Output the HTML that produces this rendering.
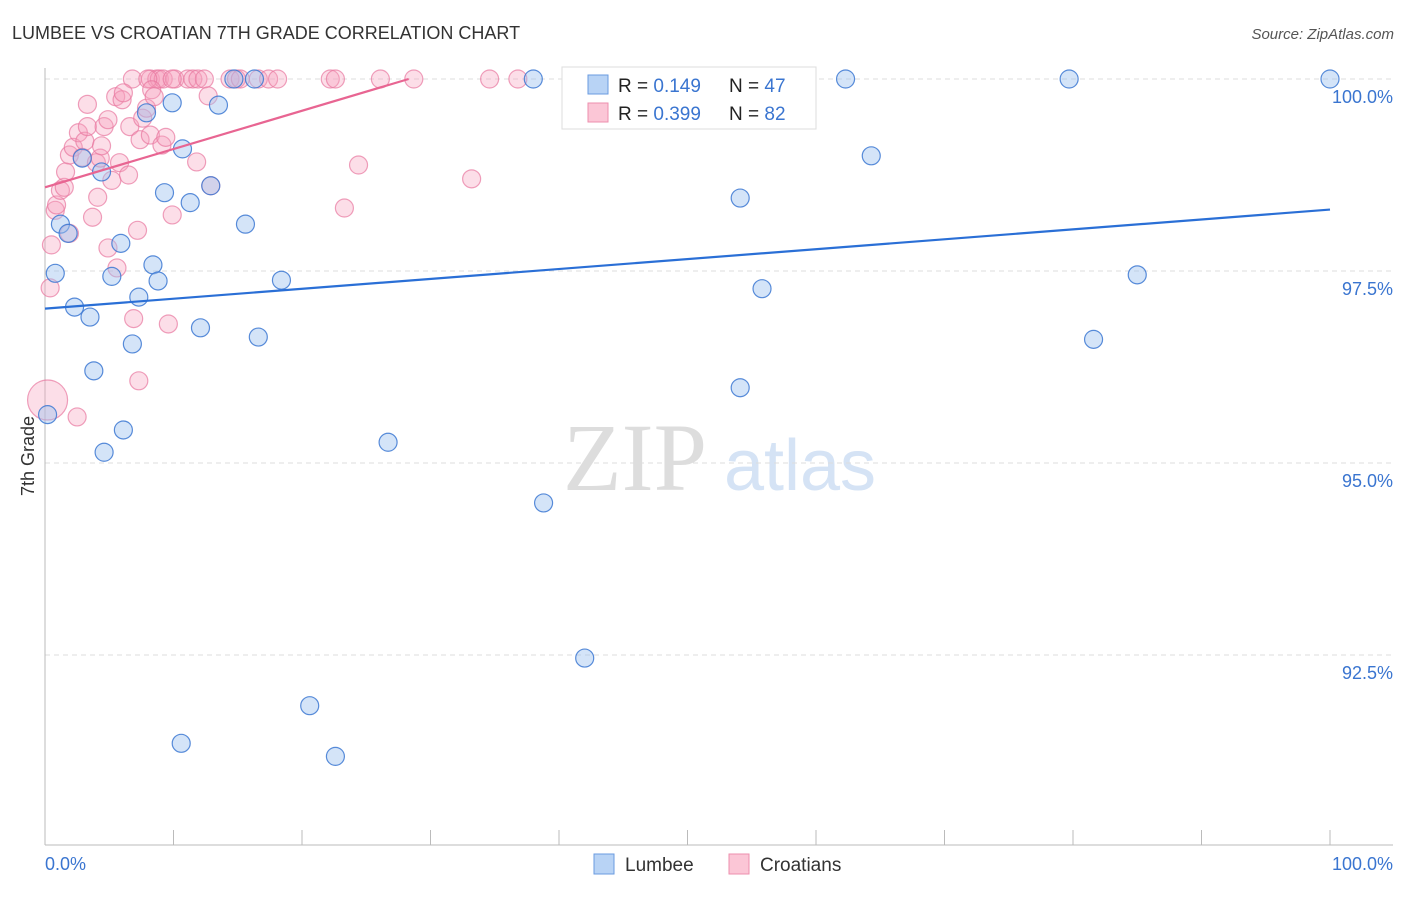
<!DOCTYPE html>
<html><head><meta charset="utf-8"><style>
body{margin:0;background:#fff;font-family:"Liberation Sans",sans-serif}
svg text{font-family:"Liberation Sans",sans-serif}
</style></head><body>
<svg id="c" width="1406" height="892">
<text x="12" y="39" font-size="18" fill="#333">LUMBEE VS CROATIAN 7TH GRADE CORRELATION CHART</text>
<text x="1394" y="39" font-size="15" fill="#555" font-style="italic" text-anchor="end">Source: ZipAtlas.com</text>
<text x="635" y="490" font-size="96" fill="#ddd" text-anchor="middle" font-family="Liberation Serif" style="font-family:'Liberation Serif',serif">ZIP</text>
<text x="800" y="490" font-size="72" fill="#d5e3f5" text-anchor="middle">atlas</text>
<text x="34" y="456" font-size="18" fill="#333" text-anchor="middle" transform="rotate(-90 34 456)">7th Grade</text>
<g id="grid"></g><g id="pts"></g><g id="lines"></g>
<g>
<rect x="562" y="67" width="254" height="62" fill="#fff" stroke="#ddd"/>
<rect x="588" y="75" width="20" height="19" fill="#b8d3f5" stroke="#6a9be0"/>
<rect x="588" y="103" width="20" height="19" fill="#fbc6d6" stroke="#ee8fae"/>
<text x="618" y="92" font-size="19" fill="#222">R = <tspan fill="#3a75d0">0.149</tspan>   </text>
<text x="729" y="92" font-size="19" fill="#222">N = <tspan fill="#3a75d0">47</tspan></text>
<text x="618" y="120" font-size="19" fill="#222">R = <tspan fill="#3a75d0">0.399</tspan></text>
<text x="729" y="120" font-size="19" fill="#222">N = <tspan fill="#3a75d0">82</tspan></text>
</g>
<g>
<rect x="594" y="854" width="20" height="20" fill="#b8d3f5" stroke="#6a9be0"/>
<text x="625" y="871" font-size="19" fill="#333">Lumbee</text>
<rect x="729" y="854" width="20" height="20" fill="#fbc6d6" stroke="#ee8fae"/>
<text x="760" y="871" font-size="19" fill="#333">Croatians</text>
</g>
</svg>
<script>
const yTicks=[100,97.5,95,92.5];
const yTickLabels=["100.0%","97.5%","95.0%","92.5%"];
const xTickLabels=["0.0%","100.0%"];
const blueX=[0.2,0.8,1.2,1.8,2.3,2.9,3.5,3.8,4.4,4.6,5.2,5.9,6.1,6.8,7.3,7.9,8.4,8.8,9.3,9.9,10.7,10.6,11.3,12.1,12.9,13.5,14.7,15.6,16.3,16.6,18.4,20.6,22.6,26.7,38.0,38.8,42.0,54.1,54.1,55.8,62.3,64.3,79.7,81.6,85.0,100,48.4];
const blueY=[95.63,97.47,98.11,97.99,97.03,98.97,96.90,96.20,98.79,95.14,97.43,97.86,95.43,96.55,97.16,99.56,97.58,97.37,98.52,99.69,99.09,91.35,98.39,96.76,98.61,99.66,100,98.11,100,96.64,97.38,91.84,91.18,95.27,100,94.48,92.46,98.45,95.98,97.27,100,99.0,100,96.61,97.45,100,100];
const pinkX=[6.8,8.2,8.7,8.9,9.2,10.1,11.1,11.5,11.9,12.4,14.4,14.9,15.2,16.6,17.4,18.1,22.2,22.6,26.1,28.7,34.6,36.8,8.0,9.9,0.2,0.4,0.5,0.8,0.9,1.2,1.5,1.6,1.9,1.9,2.2,2.5,2.6,2.9,3.1,3.3,3.3,3.7,4.0,4.1,4.3,4.4,4.6,4.9,4.9,5.2,5.5,5.6,5.8,6.0,6.1,6.5,6.6,6.9,7.2,7.3,7.4,7.6,7.9,8.2,8.3,8.5,9.1,9.4,9.6,9.9,11.8,12.7,12.9,23.3,24.4,33.2];
const pinkY=[100,100,100,100,100,100,100,100,100,100,100,100,100,100,100,100,100,100,100,100,100,100,100,100,95.82,97.28,97.84,98.29,98.36,98.55,98.59,98.79,99.01,97.99,99.11,95.60,99.30,98.98,99.19,99.38,99.67,98.20,98.91,98.46,98.97,99.13,99.38,97.80,99.47,98.68,99.77,97.54,98.91,99.73,99.82,98.75,99.38,96.88,98.03,96.07,99.21,99.49,99.62,99.27,99.86,99.77,99.14,99.24,96.81,98.23,98.92,99.78,98.61,98.32,98.88,98.70];
const blueTrend=[[0,97.01],[100,98.30]];
const pinkTrend=[[0,98.59],[28.3,100]];
const NS="http://www.w3.org/2000/svg";
const xs=v=>45+v*12.85, ys=v=>79+(100-v)*76.8;
function mk(t,a,p){const e=document.createElementNS(NS,t);for(const k in a)e.setAttribute(k,a[k]);p.appendChild(e);return e;}
const grid=document.getElementById('grid');
yTicks.forEach((t,i)=>{
 const l=mk('line',{x1:45,x2:1393,y1:ys(t),y2:ys(t),stroke:'#ddd','stroke-dasharray':'5,4'},grid);
 
 
 const tx=mk('text',{x:1393,y:ys(t)+24,'font-size':18,fill:'#3a75d0','text-anchor':'end'},grid);
 tx.textContent=yTickLabels[i];
 
 
});
for(let i=0;i<=10;i++){const l=mk('line',{x1:xs(i*10),x2:xs(i*10),y1:830,y2:845,stroke:'#bbb'},grid);
 
 }
let a=mk('line',{x1:45,x2:1393,y1:845,y2:845,stroke:'#bbb'},grid);


a=mk('line',{x1:45,x2:45,y1:68,y2:845,stroke:'#bbb'},grid);


[[0,'start'],[100,'end']].forEach((d,i)=>{const t=mk('text',{x:i?1393:45,y:870,'font-size':18,fill:'#3a75d0','text-anchor':d[1]},grid);t.textContent=xTickLabels[i];
 
 });
const pts=document.getElementById('pts');
pinkX.forEach((x,i)=>{const c=mk('circle',{cx:xs(x),cy:ys(pinkY[i]),r:i==24?20:9,fill:'rgba(246,160,190,0.35)',stroke:'rgba(232,120,160,0.7)','stroke-width':1.2},pts);
 
 });
blueX.forEach((x,i)=>{const c=mk('circle',{cx:xs(x),cy:ys(blueY[i]),r:9,fill:'rgba(160,196,240,0.45)',stroke:'rgba(60,120,210,0.85)','stroke-width':1.2},pts);
 
 });
const lines=document.getElementById('lines');
let L=mk('line',{x1:xs(blueTrend[0][0]),y1:ys(blueTrend[0][1]),x2:xs(blueTrend[1][0]),y2:ys(blueTrend[1][1]),stroke:'#2a6fd6','stroke-width':2.2},lines);


L=mk('line',{x1:xs(pinkTrend[0][0]),y1:ys(pinkTrend[0][1]),x2:xs(pinkTrend[1][0]),y2:ys(pinkTrend[1][1]),stroke:'#e86592','stroke-width':2.2},lines);


</script>
</body></html>
